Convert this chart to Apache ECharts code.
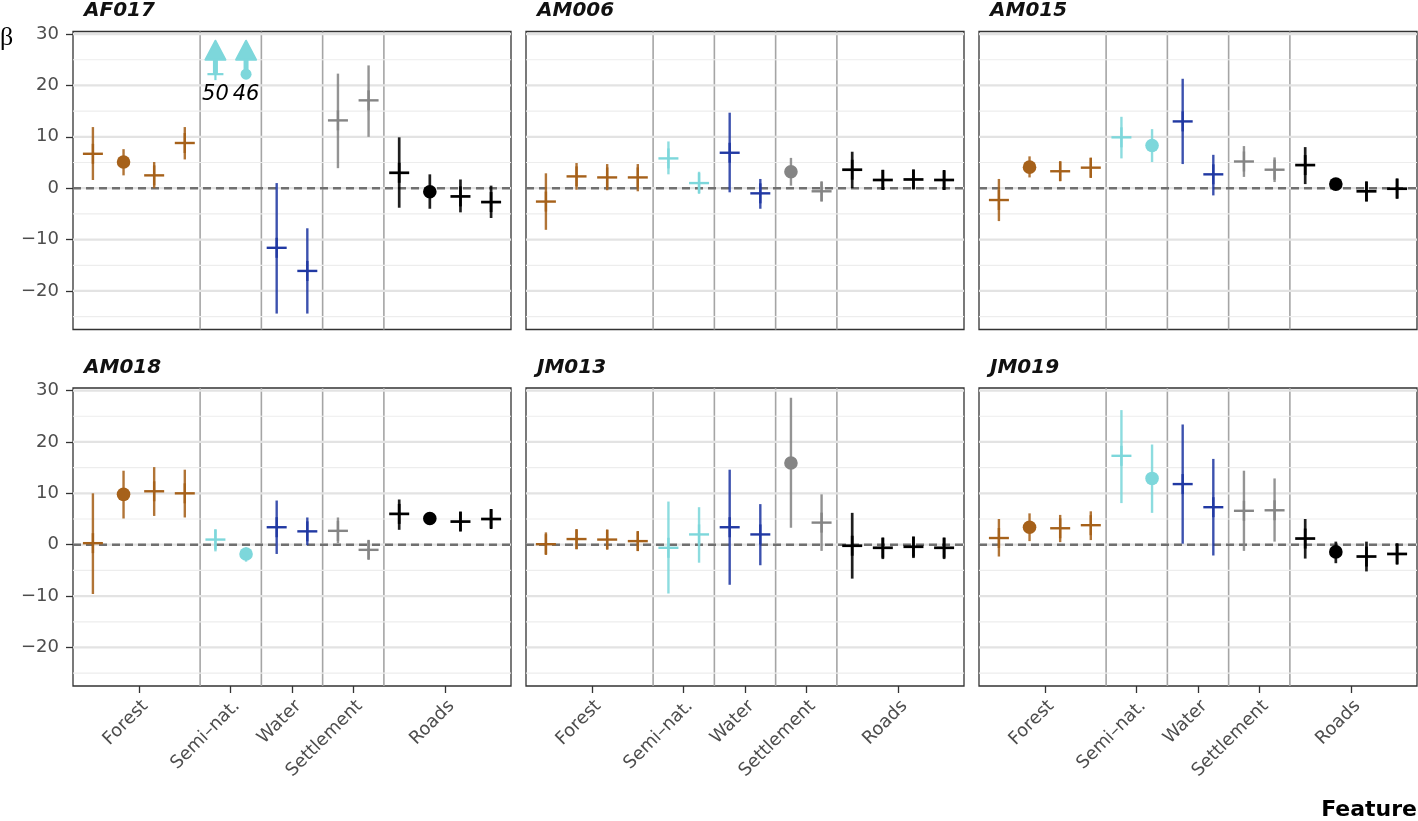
<!DOCTYPE html>
<html>
<head>
<meta charset="utf-8">
<title>β by feature</title>
<script src="https://cdn.jsdelivr.net/npm/echarts@6/dist/echarts.min.js"></script>
<style>
  html, body { margin: 0; padding: 0; background: #fff; }
  #chart { width: 1418px; height: 821px; }
</style>
</head>
<body>
<div id="chart"></div>
<script>
// panels and x groups
var panelNames = ['AF017', 'AM006', 'AM015', 'AM018', 'JM013', 'JM019'];
var groupNames = ['Forest', 'Semi\u2013nat.', 'Water', 'Settlement', 'Roads'];
var groupTicks = [2.5, 5.5, 7.5, 9.5, 12.5];
var groupBreaks = [4.5, 6.5, 8.5, 10.5];
var positionGroup = [0, 0, 0, 0, 1, 1, 2, 2, 3, 3, 4, 4, 4, 4];
var groupColors = ['#a6611a', '#7dd7db', '#2139a3', '#858585', '#000000'];
var yMajor = [-20, -10, 0, 10, 20, 30];
var yMinor = [-25, -15, -5, 5, 15, 25];

// estimates (positions 1..14), one row per panel
var estimate = [
  [6.7, 5.1, 2.5, 8.8, 50, 46, -11.6, -16.1, 13.2, 17.1, 3.0, -0.7, -1.6, -2.7],
  [-2.6, 2.3, 2.1, 2.1, 5.8, 1.0, 6.9, -1.0, 3.2, -0.6, 3.6, 1.6, 1.7, 1.6],
  [-2.3, 4.1, 3.3, 4.0, 9.9, 8.3, 13.0, 2.7, 5.2, 3.6, 4.5, 0.8, -0.6, -0.1],
  [0.3, 9.8, 10.4, 10.0, 1.0, -1.8, 3.4, 2.6, 2.7, -1.0, 6.0, 5.1, 4.5, 5.0],
  [0.1, 1.1, 1.0, 0.7, -0.6, 2.0, 3.4, 2.0, 15.9, 4.3, -0.2, -0.6, -0.4, -0.6],
  [1.3, 3.4, 3.2, 3.8, 17.3, 12.9, 11.8, 7.3, 6.6, 6.7, 1.2, -1.4, -2.3, -1.8]
];
var lower = [
  [1.6, 2.5, 0.0, 5.6, null, null, -24.4, -24.4, 3.9, 10.0, -3.8, -4.0, -4.7, -5.8],
  [-8.1, -0.3, -0.4, -0.6, 2.7, -1.1, -0.8, -4.0, 0.5, -2.6, 0.0, -0.3, -0.1, -0.3],
  [-6.4, 2.1, 1.4, 2.0, 5.8, 5.1, 4.7, -1.4, 2.2, 1.2, 0.8, 0.2, -2.6, -2.0],
  [-9.6, 5.1, 5.6, 5.3, -1.3, -3.3, -1.8, -0.1, 0.3, -2.8, 2.9, 4.5, 2.7, 3.2],
  [-2.0, -0.9, -0.9, -1.2, -9.5, -3.5, -7.8, -4.0, 3.3, -1.2, -6.6, -2.8, -2.6, -2.8],
  [-2.3, 0.7, 0.5, 0.9, 8.1, 6.2, 0.2, -2.1, -1.2, 0.6, -2.7, -3.6, -5.2, -3.9]
];
var upper = [
  [11.9, 7.6, 5.1, 11.9, null, null, 1.0, -7.8, 22.3, 23.9, 9.9, 2.7, 1.7, 0.5],
  [2.9, 4.9, 4.7, 4.7, 9.1, 3.2, 14.7, 1.8, 5.9, 1.2, 7.1, 3.6, 3.6, 3.4],
  [1.8, 6.2, 5.2, 5.9, 13.9, 11.5, 21.3, 6.5, 8.2, 6.0, 8.0, 1.2, 1.2, 1.9],
  [10.0, 14.4, 15.1, 14.6, 3.0, -0.5, 8.6, 5.3, 5.3, 0.8, 8.8, 5.7, 6.4, 6.9],
  [2.4, 2.9, 2.9, 2.6, 8.4, 7.3, 14.6, 7.9, 28.6, 9.8, 6.2, 1.4, 1.6, 1.4],
  [5.0, 6.1, 5.8, 6.5, 26.2, 19.5, 23.4, 16.7, 14.4, 12.9, 5.0, 0.6, 0.6, 0.3]
];
// positions drawn as a filled dot instead of a cross
var dotPositions = [
  [2, 6, 12],
  [9],
  [2, 6, 12],
  [2, 6, 12],
  [9],
  [2, 6, 12]
];

// layout
var gridLefts = [73, 526, 979];
var gridTops = [31.5, 388];
var gridW = 438, gridH = 298;
var xRange = [0.35, 14.65];
var yRange = [-27.5, 30.5];
// where off-scale estimates get their arrow (data units)
var offscale = { base: 22.2, headBase: 25, tip: 28.7, label: 18.2 };

var fontFamily = 'DejaVu Sans';
var chart = echarts.init(document.getElementById('chart'));

function minusFmt(v) {
  return v < 0 ? '\u2212' + Math.abs(v) : String(v);
}

// helper for full-width / full-height reference lines
function refLines(i, values, horizontal, style, z) {
  return {
    type: 'custom', xAxisIndex: i, yAxisIndex: i, z: z, silent: true,
    data: values.map(function (v) { return horizontal ? [1, v] : [v, 0]; }),
    renderItem: function (params, api) {
      var cs = params.coordSys;
      var p = api.coord([api.value(0), api.value(1)]);
      var shape = horizontal
        ? { x1: cs.x, y1: p[1], x2: cs.x + cs.width, y2: p[1] }
        : { x1: p[0], y1: cs.y, x2: p[0], y2: cs.y + cs.height };
      return { type: 'line', shape: shape, style: Object.assign({}, style) };
    }
  };
}

function renderPoint(params, api) {
  var pos = api.value(0), est = api.value(1), lo = api.value(2), hi = api.value(3);
  var isDot = api.value(4) === 1;
  var color = groupColors[positionGroup[pos - 1]];
  var lw = color === '#000000' ? 2.7 : 2.4;
  var children = [];

  if (est > yRange[1]) {
    // off the scale: arrow pointing up, value written below
    var b = api.coord([pos, offscale.base]);
    var hb = api.coord([pos, offscale.headBase]);
    var tp = api.coord([pos, offscale.tip]);
    var lb = api.coord([pos, offscale.label]);
    children.push({ type: 'rect', shape: { x: b[0] - 2.5, y: hb[1], width: 5, height: b[1] - hb[1] }, style: { fill: color } });
    children.push({ type: 'polygon', shape: { points: [[b[0] - 10, hb[1]], [b[0], tp[1]], [b[0] + 10, hb[1]]] }, style: { fill: color, stroke: color, lineWidth: 2, lineJoin: 'round' } });
    if (isDot) {
      children.push({ type: 'circle', shape: { cx: b[0], cy: b[1], r: 5.5 }, style: { fill: color } });
    } else {
      children.push({ type: 'line', shape: { x1: b[0] - 8, y1: b[1], x2: b[0] + 8, y2: b[1] }, style: { stroke: color, lineWidth: 2.2 } });
      children.push({ type: 'line', shape: { x1: b[0], y1: b[1], x2: b[0], y2: b[1] + 6 }, style: { stroke: color, lineWidth: 2.2 } });
    }
    children.push({ type: 'text', x: lb[0], y: lb[1], style: { text: String(est), fill: '#000', font: 'italic 21px "' + fontFamily + '"', align: 'center', verticalAlign: 'middle' } });
    return { type: 'group', children: children };
  }

  var c = api.coord([pos, est]);
  if (!isNaN(lo) && !isNaN(hi)) {
    var pl = api.coord([pos, lo]), ph = api.coord([pos, hi]);
    children.push({ type: 'line', shape: { x1: c[0], y1: pl[1], x2: c[0], y2: ph[1] }, style: { stroke: color, lineWidth: lw, opacity: 0.88 } });
  }
  if (isDot) {
    children.push({ type: 'circle', shape: { cx: c[0], cy: c[1], r: 6.8 }, style: { fill: color } });
  } else {
    children.push({ type: 'line', shape: { x1: c[0] - 10, y1: c[1], x2: c[0] + 10, y2: c[1] }, style: { stroke: color, lineWidth: lw } });
    children.push({ type: 'line', shape: { x1: c[0], y1: c[1] - 10, x2: c[0], y2: c[1] + 10 }, style: { stroke: color, lineWidth: lw } });
  }
  return { type: 'group', children: children };
}

var grids = [], xAxes = [], yAxes = [], series = [], titles = [];

panelNames.forEach(function (name, i) {
  var col = i % 3, row = Math.floor(i / 3);
  var bottomRow = row === 1, leftCol = col === 0;

  grids.push({
    left: gridLefts[col], top: gridTops[row], width: gridW, height: gridH,
    show: true, backgroundColor: '#fff', borderColor: '#333', borderWidth: 1.3
  });

  xAxes.push({
    type: 'value', gridIndex: i, min: xRange[0], max: xRange[1], position: 'bottom',
    splitLine: { show: false },
    axisLine: { show: false, onZero: false },
    axisTick: {
      show: bottomRow, customValues: groupTicks, length: 7,
      lineStyle: { color: '#333', width: 1.3 }
    },
    axisLabel: {
      show: bottomRow, customValues: groupTicks, rotate: 45, margin: 11,
      align: 'right', verticalAlign: 'top',
      fontFamily: fontFamily, fontSize: 18, color: '#4d4d4d',
      formatter: function (v) { return groupNames[groupTicks.indexOf(v)]; }
    }
  });

  yAxes.push({
    type: 'value', gridIndex: i, min: yRange[0], max: yRange[1], position: 'left',
    splitLine: { show: false },
    axisLine: { show: false, onZero: false },
    axisTick: {
      show: leftCol, customValues: yMajor, length: 7,
      lineStyle: { color: '#333', width: 1.3 }
    },
    axisLabel: {
      show: leftCol, customValues: yMajor, margin: 14,
      fontFamily: fontFamily, fontSize: 18, color: '#4d4d4d',
      formatter: minusFmt
    }
  });

  titles.push({
    text: name, left: gridLefts[col] + 11, top: row === 0 ? 1 : 358, padding: 0,
    textStyle: { fontFamily: fontFamily, fontStyle: 'italic', fontWeight: 'bold', fontSize: 20, color: '#111' }
  });

  series.push(refLines(i, groupBreaks, false, { stroke: '#a5a5a5', lineWidth: 1.6 }, 1));
  series.push(refLines(i, yMinor, true, { stroke: '#ededed', lineWidth: 1.2 }, 1));
  series.push(refLines(i, yMajor, true, { stroke: '#e3e3e3', lineWidth: 2.2 }, 1));
  series.push(refLines(i, [0], true, { stroke: '#707070', lineWidth: 2.4, lineDash: [8, 5] }, 2));

  series.push({
    type: 'custom', name: name, xAxisIndex: i, yAxisIndex: i, z: 3, silent: true,
    data: estimate[i].map(function (e, k) {
      var lo = lower[i][k], hi = upper[i][k];
      return [k + 1, e, lo == null ? '-' : lo, hi == null ? '-' : hi, dotPositions[i].indexOf(k + 1) >= 0 ? 1 : 0];
    }),
    renderItem: renderPoint
  });
});

chart.setOption({
  animation: false,
  backgroundColor: '#fff',
  title: titles,
  grid: grids,
  xAxis: xAxes,
  yAxis: yAxes,
  series: series,
  graphic: [
    { type: 'text', left: 0, top: 25, style: { text: '\u03b2', font: '26px "Liberation Serif"', fill: '#000' } },
    { type: 'text', right: 1, top: 799, style: { text: 'Feature', font: 'bold 22px "' + fontFamily + '"', fill: '#000' } }
  ]
});
</script>
</body>
</html>
